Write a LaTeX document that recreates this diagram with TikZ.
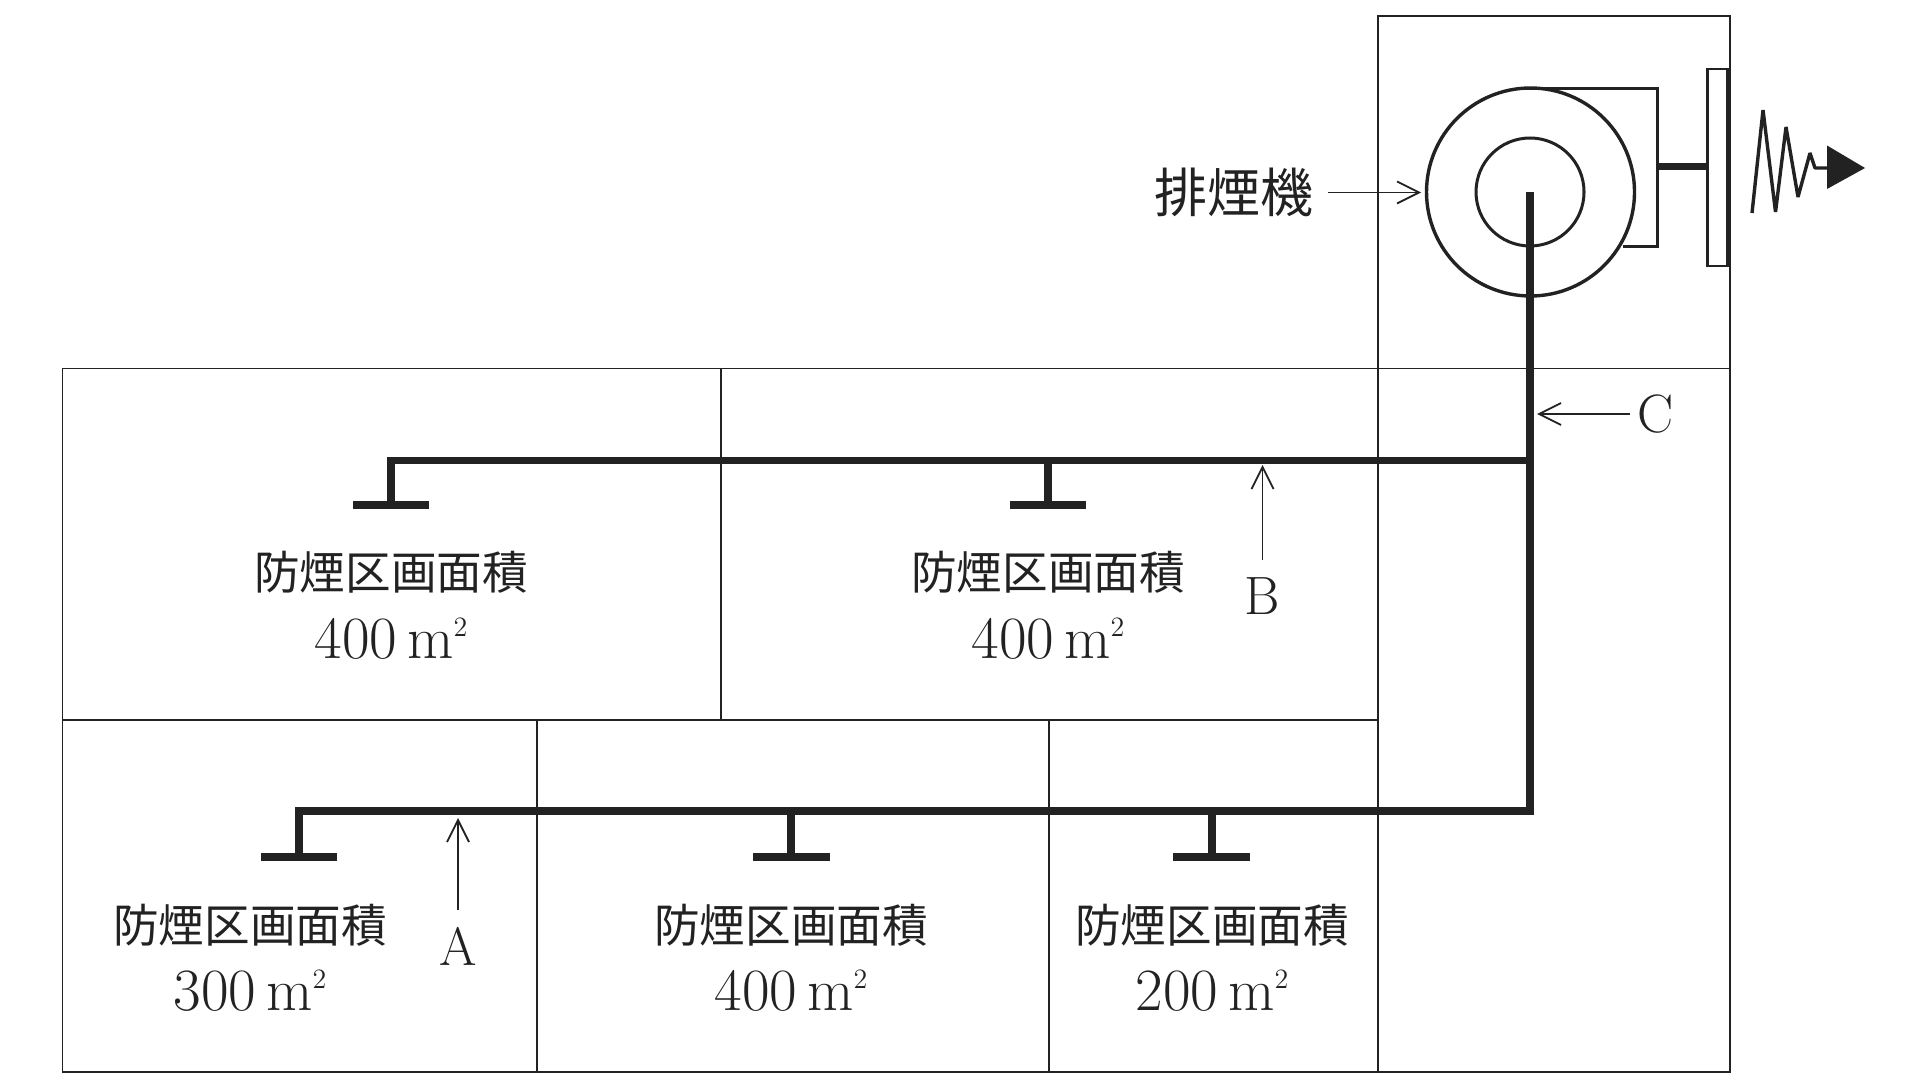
\documentclass[tikz,border=0pt]{standalone}
\usepackage{fontspec}
\usetikzlibrary{arrows.meta}
\newfontfamily\cjk{Noto Sans CJK JP}
\definecolor{ink}{HTML}{222222}
\newcommand{\jlabel}[1]{{\cjk\fontsize{22.8}{26}\selectfont #1}}
\newcommand{\arealabel}[1]{\fontsize{30}{34}\selectfont #1\,m\raisebox{.36em}{\fontsize{14}{14}\selectfont 2}}
\tikzset{
  x=.5pt,y=-.5pt,
  wall/.style={draw=ink,line width=.95pt},
  duct/.style={draw=ink,line width=3.8pt,line cap=butt,line join=miter},
  hood/.style={draw=ink,line width=3.6pt},
  fanline/.style={draw=ink,line width=1.5pt},
  callout/.style={draw=ink,line width=.9pt,-{Straight Barb[length=11pt,width=11pt,line width=.9pt]}},
  areatext/.style={text=ink,align=center,inner sep=0pt},
  valuetext/.style={text=ink,inner sep=0pt,anchor=base},
  letter/.style={text=ink,inner sep=0pt,font=\fontsize{27}{30}\selectfont},
}
\begin{document}
\begin{tikzpicture}
\useasboundingbox (0,0) rectangle (1920,1080);
% walls
\draw[wall] (62.5,368.5) rectangle (1378,720);
\draw[wall] (721,368.5) -- (721,720);
\draw[wall] (62.5,720) rectangle (1378,1072);
\draw[wall] (537,720) -- (537,1072);
\draw[wall] (1049,720) -- (1049,1072);
\draw[wall] (1378,16) rectangle (1730,1072);
\draw[wall] (1378,368.5) -- (1730,368.5);
% fan
\draw[fanline] (1518,89) -- (1657,89) -- (1657,247) -- (1622.5,247);
\node[circle,draw=ink,line width=1.7pt,minimum size=104pt,inner sep=0pt] (fan) at (1530.5,192) {};
\node[circle,draw=ink,line width=1.5pt,minimum size=54pt,inner sep=0pt] (fanin) at (1530,192) {};
\node[draw=ink,line width=1.4pt,minimum width=10pt,minimum height=98.5pt,inner sep=0pt] (plate) at (1717.5,167.5) {};
\coordinate (hsg) at (1657,166.7);
\draw[draw=ink,line width=3.6pt] (hsg) -- (plate.west |- hsg);
% exhaust symbol
\coordinate (z0) at (1752,213);
\draw[draw=ink,line width=1.7pt,line join=bevel] (z0) -- (1763,110) -- (1775.5,212) -- (1786,127) -- (1798,197) -- (1810,153) -- (1815,168) -- (1832,168);
\fill[ink] (1827,145.5) -- (1865,168) -- (1827,189) -- cycle;
% ducts
\coordinate (fanc) at (1530,192.5);
\coordinate (j1) at (1530,460.5);
\coordinate (j2) at (1530,811);
\coordinate (r1) at (391,460.5);
\coordinate (r2) at (299,811);
\draw[duct] (fanc) -- (j2) -- (r2) -- (299,857);
\draw[duct] (j1) -- (r1) -- (391,505);
\draw[duct] (1048,460.5) -- (1048,505);
\draw[duct] (791,811) -- (791,857);
\draw[duct] (1212,811) -- (1212,857);
\draw[hood] (353,505) -- (429,505);
\draw[hood] (1010,505) -- (1086,505);
\draw[hood] (261,857) -- (337,857);
\draw[hood] (753,857) -- (830,857);
\draw[hood] (1173,857) -- (1250,857);
% area labels
\node[areatext] (a1) at (391,572) {\jlabel{防煙区画面積}};
\node[valuetext] (v1) at (391,658) {\arealabel{400}};
\node[areatext] (a2) at (1048,572) {\jlabel{防煙区画面積}};
\node[valuetext] (v2) at (1048,658) {\arealabel{400}};
\node[areatext] (a3) at (250,925) {\jlabel{防煙区画面積}};
\node[valuetext] (v3) at (250,1010) {\arealabel{300}};
\node[areatext] (a4) at (791,925) {\jlabel{防煙区画面積}};
\node[valuetext] (v4) at (791,1010) {\arealabel{400}};
\node[areatext] (a5) at (1212,925) {\jlabel{防煙区画面積}};
\node[valuetext] (v5) at (1212,1010) {\arealabel{200}};
% callouts
\node[letter] (A) at (458,946) {A};
\node[letter] (B) at (1262.5,596) {B};
\node[letter] (C) at (1656,414) {C};
\node[text=ink,inner sep=0pt] (fanname) at (1233.5,192) {\cjk\fontsize{26.5}{28}\selectfont 排煙機};
\coordinate (Atip) at (458,818);
\coordinate (Btip) at (1262.5,465);
\coordinate (Ctip) at (1537,414);
\coordinate (Ftip) at (1421,192.5);
\coordinate (Astart) at (458,910);
\coordinate (Bstart) at (1262.5,560);
\coordinate (Cstart) at (1630,414);
\coordinate (Fstart) at (1328,192.5);
\draw[callout] (Astart) -- (Atip);
\draw[callout] (Bstart) -- (Btip);
\draw[callout] (Cstart) -- (Ctip);
\draw[callout] (Fstart) -- (Ftip);
\end{tikzpicture}
\end{document}
